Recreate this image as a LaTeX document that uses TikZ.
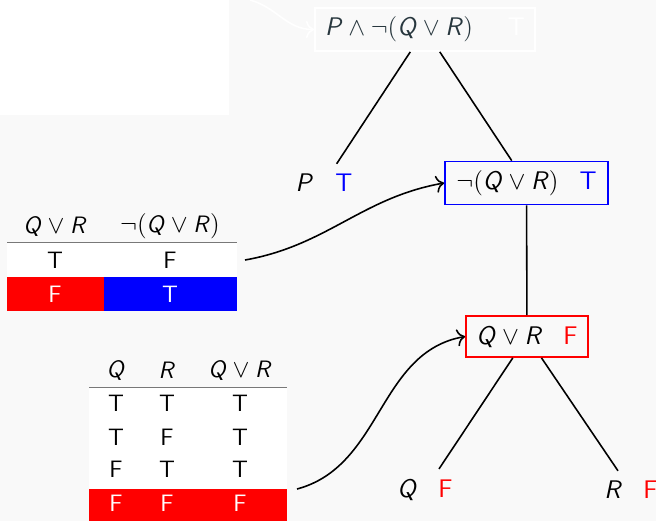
\documentclass[tikz,border=0pt]{standalone}
\usetikzlibrary{arrows.meta, positioning}
\definecolor{bgGray}{RGB}{249,249,249}
\definecolor{topInk}{RGB}{40,55,62}
\definecolor{ruleGray}{RGB}{120,120,120}
\newcommand{\sv}[1]{\textsf{\textit{#1}}}
\newcommand{\Tv}{\textcolor{blue}{T}}
\newcommand{\Fv}{\textcolor{red}{F}}

\begin{document}
\begin{tikzpicture}[x=0.02cm, y=-0.02cm,
    every node/.style={font=\fontsize{14.5}{17}\selectfont\sffamily},
    frm/.style={draw, line width=1pt, minimum height=0.86cm},
    leaf/.style={inner xsep=0pt, inner ysep=0.2cm},
    cell/.style={font=\fontsize{13.5}{16}\selectfont\sffamily, inner sep=0pt},
    link/.style={line width=0.9pt},
    pull/.style={line width=0.9pt, -{To[scale=1.3]}}]
  % background and page frame
  \fill[bgGray] (0,0) rectangle (656,521);
  \useasboundingbox (0,0) rectangle (656,521);
  \fill[white] (0,0) rectangle (229,115);

  % the formula tree
  \node[frm, draw=white, text=topInk, minimum width=4.4cm] (top) at (425,29.5)
    {$\sv{P}\wedge\neg(\sv{Q}\vee\sv{R})$\hspace{0.7cm}\textcolor{white}{T}};
  \node[leaf] (p) at (324,183) {$\sv{P}$\hspace{0.44cm}\Tv};
  \node[frm, draw=blue, minimum width=3.26cm] (neg) at (526.5,183)
    {$\neg(\sv{Q}\vee\sv{R})$\hspace{0.42cm}\Tv};
  \node[frm, draw=red, minimum width=2.44cm, minimum height=0.82cm] (or) at (527,336.5)
    {$\sv{Q}\vee\sv{R}$\hspace{0.42cm}\Fv};
  \node[leaf] (q) at (425,490) {$\sv{Q}$\hspace{0.42cm}\Fv};
  \node[leaf] (r) at (631,490) {$\sv{R}$\hspace{0.42cm}\Fv};
  \draw[link] (top) -- (p);
  \draw[link] (top) -- (neg);
  \draw[link] (neg) -- (or);
  \draw[link] (or) -- (q);
  \draw[link] (or) -- (r);

  % table for the negation
  \fill[white] (7,243) rectangle (237,277);
  \fill[red] (7,277) rectangle (104,311);
  \fill[blue] (104,277) rectangle (237,311);
  \draw[ruleGray, line width=0.5pt] (7,242) -- (237,242);
  \node[cell] (na) at (55,226) {$\sv{Q}\vee\sv{R}$};
  \node[cell] (nb) at (170,226) {$\neg(\sv{Q}\vee\sv{R})$};
  \node[cell] (na1) at (55,260) {T};
  \node[cell] (nb1) at (170,260) {F};
  \node[cell, text=white] (na2) at (55,294) {F};
  \node[cell, text=white] (nb2) at (170,294) {T};
  \coordinate (negtab) at (245,260);

  % table for the disjunction
  \fill[white] (89,388) rectangle (287,489);
  \fill[red] (89,489) rectangle (287,521);
  \draw[ruleGray, line width=0.5pt] (89,387) -- (287,387);
  \node[cell] (oq) at (116,370) {$\sv{Q}$};
  \node[cell] (or0) at (167,370) {$\sv{R}$};
  \node[cell] (oqr) at (240,370) {$\sv{Q}\vee\sv{R}$};
  \node[cell] (oq1) at (116,403) {T};
  \node[cell] (or1) at (167,403) {T};
  \node[cell] (oqr1) at (240,403) {T};
  \node[cell] (oq2) at (116,437) {T};
  \node[cell] (or2) at (167,437) {F};
  \node[cell] (oqr2) at (240,437) {T};
  \node[cell] (oq3) at (116,469) {F};
  \node[cell] (or3) at (167,469) {T};
  \node[cell] (oqr3) at (240,469) {T};
  \node[cell, text=white] (oq4) at (116,503) {F};
  \node[cell, text=white] (or4) at (167,503) {F};
  \node[cell, text=white] (oqr4) at (240,503) {F};
  \coordinate (ortab) at (297,489);

  % arrows from the tables
  \coordinate (ghost) at (250,0);
  \draw[pull, white] (ghost) to[out=-15, in=180] (top.west);
  \draw[pull] (negtab) to[out=10, in=190] (neg.west);
  \draw[pull] (ortab) to[out=15, in=190] (or.west);
\end{tikzpicture}
\end{document}
